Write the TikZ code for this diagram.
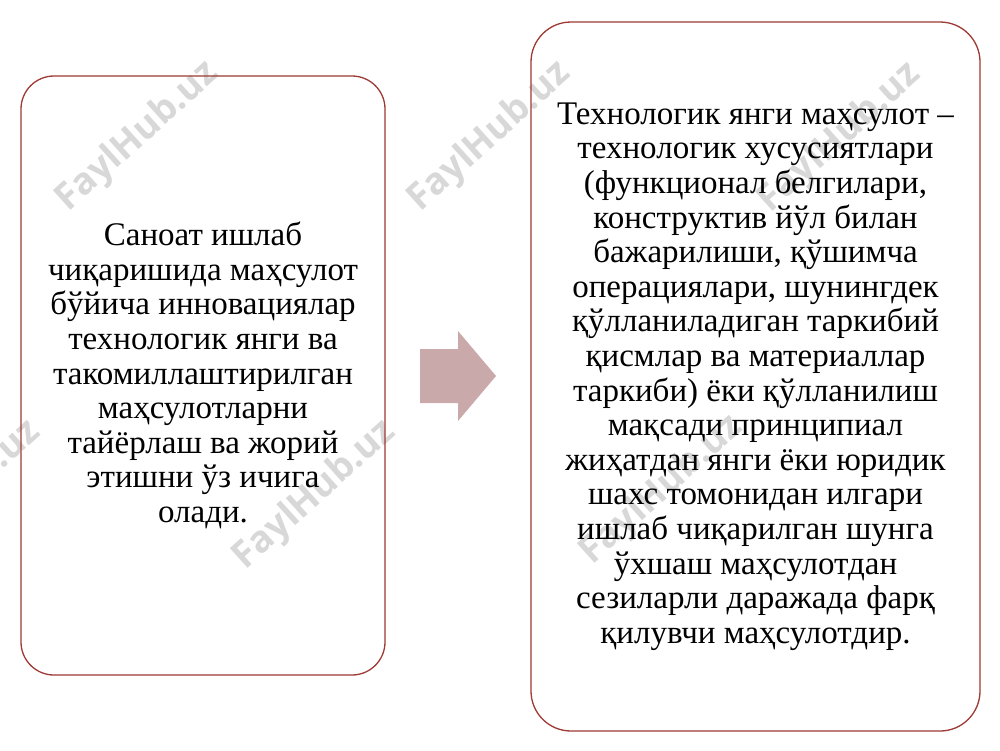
\documentclass[tikz,border=0pt]{standalone}
\usepackage{fontspec}
\setmainfont{Liberation Serif}
\newfontfamily\wmfont{Open Sans}
\usepackage{tikz}
\usetikzlibrary{calc, positioning}

\definecolor{boxline}{RGB}{158,58,52}
\definecolor{arrowfill}{RGB}{201,169,169}
\definecolor{wmgray}{RGB}{216,216,216}

\tikzset{
  infobox/.style={draw=boxline, line width=1.3pt, align=center, inner sep=0pt,
    font=\fontsize{33}{34.6}\selectfont},
  wmark/.style={text=wmgray, rotate=42, font=\wmfont\bfseries\fontsize{37}{37}\selectfont}
}

\begin{document}
\begin{tikzpicture}[x=1pt, y=-1pt]
    \useasboundingbox (0,0) rectangle (1000,750);
    \fill[white] (0,0) rectangle (1000,750);
    \clip (0,0) rectangle (1000,750);

    % Watermarks
    \foreach \wx/\wy [count=\i] in {138/137, 490/137, 840/138, -40/495, 315/495, 662/490}
    {
    \node[wmark] (wm\i) at (\wx,\wy) {FaylHub.uz};
    }

    % Boxes
    \node[infobox, rounded corners=33pt, minimum width=364pt, minimum height=599pt]
        (industry) at (203,375.5) {Саноат ишлаб\\
        чиқаришида маҳсулот\\
        бўйича инновациялар\\
        технологик янги ва\\
        такомиллаштирилган\\
        маҳсулотларни\\
        тайёрлаш ва жорий\\
        этишни ўз ичига\\
        олади.};
    \node[infobox, rounded corners=40pt, minimum width=449pt, minimum height=709pt]
        (newproduct) at (755.5,376.5) {Технологик янги маҳсулот –\\
        технологик хусусиятлари\\
        (функционал белгилари,\\
        конструктив йўл билан\\
        бажарилиши, қўшимча\\
        операциялари, шунингдек\\
        қўлланиладиган таркибий\\
        қисмлар ва материаллар\\
        таркиби) ёки қўлланилиш\\
        мақсади принципиал\\
        жиҳатдан янги ёки юридик\\
        шахс томонидан илгари\\
        ишлаб чиқарилган шунга\\
        ўхшаш маҳсулотдан\\
        сезиларли даражада фарқ\\
        қилувчи маҳсулотдир.};

    % Arrow
    \coordinate (mid) at ($(industry.east)!0.5!(newproduct.west)$);
    \fill[arrowfill] (mid) ++(-38,-27) -- ++(38,0) -- ++(0,-18) -- ++(38,45)
        -- ++(-38,45) -- ++(0,-18) -- ++(-38,0) -- cycle;

\end{tikzpicture}
\end{document}
